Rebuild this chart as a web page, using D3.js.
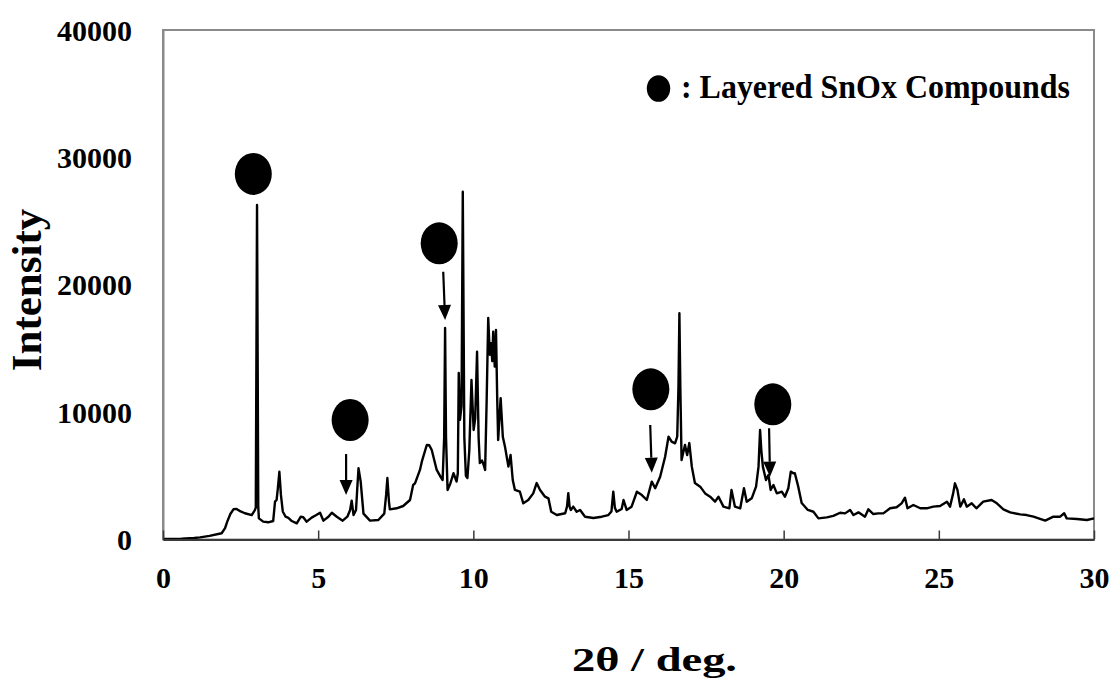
<!DOCTYPE html>
<html>
<head>
<meta charset="utf-8">
<script src="https://cdn.jsdelivr.net/npm/d3@7"></script>
<style>
  html, body { margin: 0; padding: 0; background: #fff; }
  svg { display: block; }
  text { font-family: "Liberation Serif", "Times New Roman", serif; font-weight: bold; fill: #000; }
</style>
</head>
<body>
<svg id="chart" width="1114" height="684"></svg>
<script>
// ---------- data ----------
const twoTheta = [
  0.00, 0.60, 1.00, 1.19, 1.50, 1.89, 2.00, 2.07, 2.17, 2.27, 2.37, 2.50, 2.64, 2.86, 2.96,
  2.99, 3.03, 3.07, 3.09, 3.23, 3.39, 3.55, 3.61, 3.66, 3.70, 3.75, 3.80, 3.86, 3.95, 4.04,
  4.15, 4.31, 4.44, 4.52, 4.63, 4.79, 4.94, 5.06, 5.17, 5.33, 5.44, 5.60, 5.79, 5.94, 6.03,
  6.08, 6.14, 6.22, 6.26, 6.30, 6.37, 6.46, 6.67, 6.94, 7.13, 7.19, 7.23, 7.28, 7.31, 7.53,
  7.74, 7.96, 8.06, 8.12, 8.28, 8.34, 8.50, 8.58, 8.66, 8.82, 8.95, 9.01, 9.06, 9.09, 9.12,
  9.17, 9.26, 9.36, 9.46, 9.50, 9.53, 9.57, 9.62, 9.66, 9.71, 9.76, 9.81, 9.87, 9.94, 10.01,
  10.06, 10.12, 10.17, 10.21, 10.28, 10.34, 10.38, 10.43, 10.48, 10.53, 10.57, 10.61, 10.64, 10.69, 10.73,
  10.77, 10.80, 10.88, 10.95, 11.02, 11.13, 11.20, 11.27, 11.34, 11.50, 11.61, 11.77, 11.93, 12.04, 12.15,
  12.31, 12.42, 12.51, 12.69, 12.96, 13.02, 13.06, 13.10, 13.14, 13.22, 13.33, 13.44, 13.60, 13.87, 14.14,
  14.35, 14.45, 14.51, 14.56, 14.62, 14.78, 14.84, 14.94, 15.10, 15.27, 15.43, 15.59, 15.75, 15.86, 16.02,
  16.18, 16.29, 16.39, 16.50, 16.57, 16.61, 16.64, 16.67, 16.71, 16.82, 16.89, 16.96, 17.04, 17.14, 17.31,
  17.47, 17.63, 17.79, 17.90, 18.06, 18.25, 18.32, 18.43, 18.60, 18.72, 18.81, 18.97, 19.11, 19.19, 19.24,
  19.28, 19.33, 19.43, 19.51, 19.58, 19.67, 19.78, 19.94, 20.04, 20.15, 20.23, 20.31, 20.36, 20.47, 20.58,
  20.78, 20.96, 21.12, 21.39, 21.60, 21.82, 21.98, 22.14, 22.25, 22.41, 22.62, 22.73, 22.89, 23.05, 23.21,
  23.43, 23.64, 23.80, 23.91, 23.99, 24.18, 24.40, 24.61, 24.82, 25.04, 25.26, 25.36, 25.46, 25.52, 25.60,
  25.69, 25.81, 25.90, 26.06, 26.21, 26.43, 26.70, 26.87, 27.08, 27.30, 27.62, 27.83, 28.05, 28.43, 28.69,
  28.91, 29.04, 29.12, 29.45, 29.77, 30.00
];
const intensity = [
  50, 60, 120, 170, 280, 490, 900, 1400, 2000, 2370, 2400, 2200, 2060, 1920, 2300,
  2500, 26260, 2500, 1660, 1400, 1350, 1450, 2970, 3100, 4000, 5320, 3500, 2200, 1790, 1700,
  1450, 1270, 1790, 1750, 1400, 1720, 1920, 2100, 1480, 1790, 2100, 1790, 1480, 1790, 2320,
  3050, 1920, 2320, 4000, 5590, 4540, 2030, 1480, 1530, 2030, 3500, 4830, 3000, 2370, 2450,
  2630, 3100, 4280, 4410, 5460, 6110, 7420, 7400, 7030, 5460, 4900, 4670, 8000, 16600, 8000,
  3890, 4400, 5200, 4550, 5200, 13070, 9400, 10500, 27300, 8000, 5000, 4830, 7000, 12520, 8600,
  9500, 14740, 8000, 6000, 6200, 5800, 5460, 11000, 17390, 14500, 15420, 14000, 16310, 13570, 16450,
  11000, 7810, 11100, 8070, 7290, 5720, 6630, 4670, 3890, 3750, 2840, 3100, 3620, 4430, 3890,
  3360, 3230, 2180, 1920, 2060, 2600, 3640, 2600, 2320, 2580, 2180, 2320, 1790, 1690, 1790,
  1920, 2200, 3750, 2500, 2180, 2400, 3100, 2320, 2580, 3750, 3490, 3100, 4540, 4020, 4930,
  6500, 8070, 7680, 7550, 8070, 12000, 17760, 12000, 6240, 7420, 6630, 7570, 5720, 4430, 4150,
  3620, 3360, 2970, 3360, 2580, 2450, 3890, 2580, 2450, 4020, 2970, 3230, 4150, 5720, 8600,
  7000, 5720, 4670, 5060, 3890, 4280, 3620, 3750, 3360, 4020, 5330, 5200, 5200, 4150, 2860,
  2320, 2180, 1660, 1740, 1850, 2100, 2050, 2320, 1920, 2130, 1790, 2370, 2000, 2050, 2050,
  2450, 2530, 2840, 3280, 2450, 2710, 2450, 2450, 2580, 2630, 2970, 2580, 3600, 4410, 3900,
  2580, 3150, 2580, 2840, 2450, 2970, 3100, 2840, 2370, 2130, 1970, 1920, 1790, 1480, 1790,
  1790, 2060, 1660, 1610, 1530, 1660
];
const xTicks = [0, 5, 10, 15, 20, 25, 30];
const yTicks = [0, 10000, 20000, 30000, 40000];
// marker circles (x in deg, y in intensity)
const markerX = [2.91, 6.03, 8.90, 15.72, 19.65];
const markerY = [28700, 9380, 23250, 11790, 10610];
// arrows: start and tip (deg, intensity)
const arrowX0 = [5.90, 9.03, 15.70, 19.53];
const arrowY0 = [6710, 21020, 8990, 8730];
const arrowX1 = [5.90, 9.09, 15.75, 19.56];
const arrowY1 = [3490, 17230, 5240, 4930];
const legendLabel = ": Layered SnOx Compounds";
const xTitle = "2θ / deg.";
const yTitle = "Intensity";

// ---------- layout ----------
const svg = d3.select("#chart");
const L = 163, R = 1094, T = 30, B = 539.5;
const x = d3.scaleLinear().domain([0, 30]).range([L, R]);
const y = d3.scaleLinear().domain([0, 40000]).range([B, T]);

// frame
svg.append("rect")
  .attr("x", L).attr("y", T).attr("width", R - L).attr("height", B - T)
  .attr("fill", "none").attr("stroke", "#8a8a8a").attr("stroke-width", 2);

// y axis (labels only)
const gy = svg.append("g").attr("transform", `translate(${L},0)`)
  .call(d3.axisLeft(y).tickValues(yTicks).tickSize(0).tickPadding(31).tickFormat(d3.format("d")));
gy.select(".domain").attr("stroke", "#8a8a8a").attr("stroke-width", 2);
gy.selectAll("text").style("font-size", "30px").attr("dy", "0.34em");

// data line
const pts = twoTheta.map((t, i) => [t, intensity[i]]);
svg.append("path")
  .datum(pts)
  .attr("fill", "none")
  .attr("stroke", "#000")
  .attr("stroke-width", 2.4)
  .attr("stroke-linejoin", "round")
  .attr("d", d3.line().x(d => x(d[0])).y(d => y(d[1])));

// x axis
const gx = svg.append("g").attr("transform", `translate(0,${B})`)
  .call(d3.axisBottom(x).tickValues(xTicks).tickSizeInner(-9).tickSizeOuter(0).tickPadding(27));
gx.select(".domain").attr("stroke", "#3a3a3a").attr("stroke-width", 2);
gx.selectAll(".tick line").attr("stroke", "#3a3a3a").attr("stroke-width", 1.5);
gx.selectAll("text").style("font-size", "30px");

// markers
svg.selectAll("ellipse.mk").data(markerX).enter().append("ellipse")
  .attr("class", "mk")
  .attr("cx", d => x(d)).attr("cy", (d, i) => y(markerY[i]))
  .attr("rx", 18.5).attr("ry", 21).attr("fill", "#000");

// arrows
arrowX0.forEach((ax, i) => {
  const x0 = x(ax), y0 = y(arrowY0[i]), x1 = x(arrowX1[i]), y1 = y(arrowY1[i]);
  const ang = Math.atan2(y1 - y0, x1 - x0);
  const hl = 15, hw = 6.5;
  const bx = x1 - hl * Math.cos(ang), by = y1 - hl * Math.sin(ang);
  svg.append("line").attr("x1", x0).attr("y1", y0).attr("x2", bx).attr("y2", by)
    .attr("stroke", "#000").attr("stroke-width", 2.2);
  const px = -Math.sin(ang), py = Math.cos(ang);
  svg.append("path")
    .attr("d", `M${x1},${y1}L${bx + px * hw},${by + py * hw}L${bx - px * hw},${by - py * hw}Z`)
    .attr("fill", "#000");
});

// legend
svg.append("ellipse").attr("cx", 658.5).attr("cy", 88.5).attr("rx", 11.7).attr("ry", 13.3).attr("fill", "#000");
svg.append("text").attr("x", 681).attr("y", 97.5)
  .attr("textLength", 389).attr("lengthAdjust", "spacingAndGlyphs")
  .style("font-size", "33px").text(legendLabel);

// axis titles
svg.append("text").attr("x", 654.5).attr("y", 671).attr("text-anchor", "middle")
  .attr("textLength", 165).attr("lengthAdjust", "spacingAndGlyphs")
  .style("font-size", "34px").text(xTitle);
svg.append("text").attr("transform", "translate(41,290) rotate(-90)")
  .attr("text-anchor", "middle").style("font-size", "43px").text(yTitle);
</script>
</body>
</html>
